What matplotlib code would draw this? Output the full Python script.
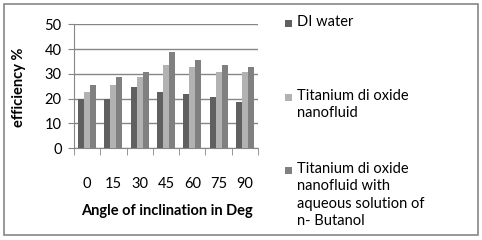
import matplotlib
matplotlib.use("Agg")
import matplotlib.pyplot as plt
import numpy as np
from matplotlib.patches import Rectangle

categories = ["0", "15", "30", "45", "60", "75", "90"]
di_water = [20, 20, 24.6, 22.6, 21.8, 20.6, 18.6]
tio2 = [22.6, 25.5, 28.7, 33.6, 32.8, 30.7, 30.7]
tio2_butanol = [25.5, 28.7, 30.7, 38.8, 35.6, 33.6, 32.8]
series_names = ["DI water", "Titanium di oxide\nnanofluid",
                "Titanium di oxide\nnanofluid with\naqueous solution of\nn- Butanol"]
colors = ["#606060", "#b2b2b2", "#808080"]

plt.rcParams['font.family'] = ['Lato', 'DejaVu Sans']
FS = 10.5
W, H = 482, 240
fig = plt.figure(figsize=(W/100, H/100), dpi=100)
fig.patch.set_facecolor("white")
fig.add_artist(Rectangle((4/W, 5/H), 474/W, 231/H, transform=fig.transFigure,
                         fill=False, edgecolor="#868686", linewidth=1.2))

ax_h = 148 - 24.3
ax = fig.add_axes([74/W, (H-148)/H, (258-74)/W, ax_h/H])
x = np.arange(len(categories))
bw = 0.23
for i, (vals, c) in enumerate(zip([di_water, tio2, tio2_butanol], colors)):
    ax.bar(x + (i-1)*bw, vals, width=bw, color=c, zorder=3)

ax.set_xlim(-0.5, len(categories)-0.5)
ax.set_ylim(0, 50)
ax.set_yticks(range(0, 51, 10))
ax.yaxis.grid(True, color="#868686", linewidth=1.0, zorder=0)
for s in ["top", "right"]:
    ax.spines[s].set_visible(False)
for s in ["left", "bottom"]:
    ax.spines[s].set_color("#868686")
ax.set_xticks(x)
ax.set_xticklabels([])
ax.set_xticks(np.arange(-0.5, len(categories), 1), minor=True)
ax.tick_params(axis="x", which="major", length=0)
ax.tick_params(axis="x", which="minor", length=5, color="#868686", direction="out")
ax.tick_params(axis="y", length=4, color="#868686", labelsize=FS, pad=5)
for xi, lab in zip(x, categories):
    ax.text(xi, -(184 - 148) / ax_h, lab, transform=ax.get_xaxis_transform(),
            ha="center", va="center", fontsize=FS)

fig.text(167/W, 1-211/H, "Angle of inclination in Deg", ha="center", va="center",
         fontsize=FS, fontweight="bold")
fig.text(19/W, 1-87/H, "efficiency %", ha="center", va="center", rotation=90,
         fontsize=FS, fontweight="bold")

leg_y = [23, 97, 170]
for name, c, yy in zip(series_names, colors, leg_y):
    fig.add_artist(Rectangle((285/W, 1-(yy+3.5)/H), 7/W, 7/H, transform=fig.transFigure,
                             facecolor=c, edgecolor="none"))
    fig.text(297/W, 1-(yy-8)/H, name, ha="left", va="top", fontsize=FS,
             linespacing=1.3)

fig.savefig("out.png", dpi=100)
